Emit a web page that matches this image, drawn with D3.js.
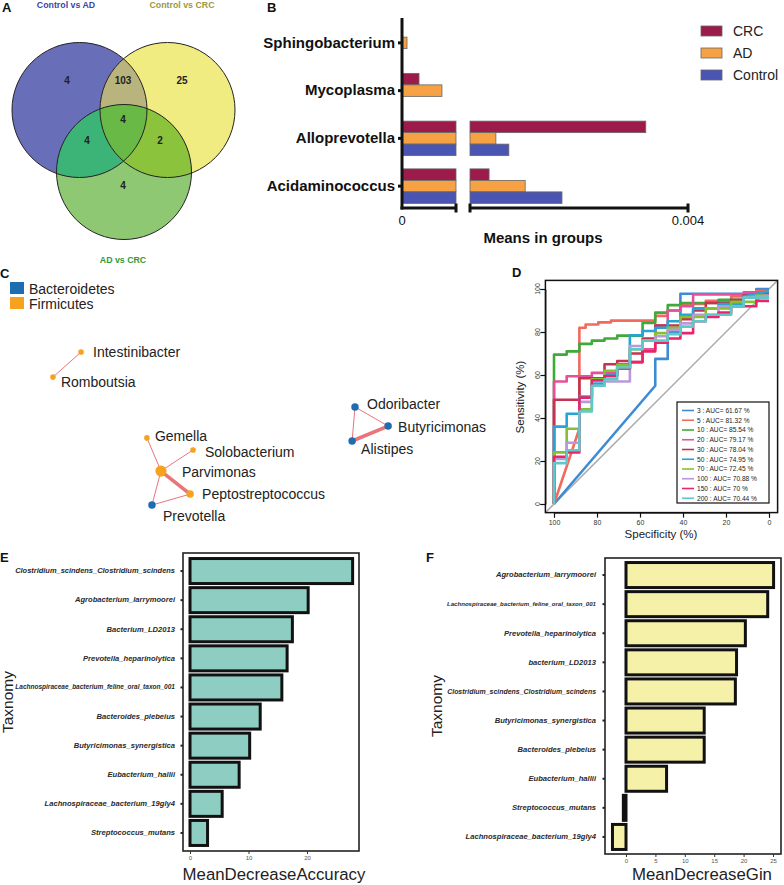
<!DOCTYPE html>
<html>
<head>
<meta charset="utf-8">
<script src="https://cdn.jsdelivr.net/npm/d3@7/dist/d3.min.js"></script>
<style>
  html, body { margin: 0; padding: 0; background: #fff; }
  svg { display: block; font-family: "Liberation Sans", Arial, sans-serif; }
</style>
</head>
<body>
<svg id="figure" width="784" height="885"></svg>
<script>
// ---------- A : venn counts ----------
var vennSetNames = ["Control vs AD", "Control vs CRC", "AD vs CRC"];
var vennRegionSets = ["0", "01", "1", "012", "02", "12", "2"];
var vennRegionCounts = [4, 103, 25, 4, 4, 2, 4];

// ---------- B : means in groups ----------
var taxaB = ["Sphingobacterium", "Mycoplasma", "Alloprevotella", "Acidaminococcus"];
var groupsB = ["CRC", "AD", "Control"];
var meansCRC = [0, 0.000126, 0.00338, 0.00108];
var meansAD = [0.000037, 0.000296, 0.00118, 0.00161];
var meansControl = [0, 0.000003, 0.00137, 0.00215];
var ticksB = [0, 0.004];

// ---------- C : co-occurrence network ----------
var phyla = ["Bacteroidetes", "Firmicutes"];
// lx, ly = layout position (0-100 layout units)
var netNodes = [
  { id: "Intestinibacter",    phylum: "Firmicutes",    lx: 11.4, ly: 6.7 },
  { id: "Romboutsia",         phylum: "Firmicutes",    lx: 3.6,  ly: 20.6 },
  { id: "Gemella",            phylum: "Firmicutes",    lx: 29.7, ly: 54.4 },
  { id: "Solobacterium",      phylum: "Firmicutes",    lx: 42.5, ly: 61.1 },
  { id: "Parvimonas",         phylum: "Firmicutes",    lx: 33.6, ly: 72.8 },
  { id: "Peptostreptococcus", phylum: "Firmicutes",    lx: 41.7, ly: 85.6 },
  { id: "Prevotella",         phylum: "Bacteroidetes", lx: 31.1, ly: 91.7 },
  { id: "Odoribacter",        phylum: "Bacteroidetes", lx: 87.5, ly: 37.2 },
  { id: "Butyricimonas",      phylum: "Bacteroidetes", lx: 96.7, ly: 47.8 },
  { id: "Alistipes",          phylum: "Bacteroidetes", lx: 86.7, ly: 56.1 }
];
var netEdges = [
  { source: "Intestinibacter", target: "Romboutsia",         w: 0.6 },
  { source: "Gemella",         target: "Parvimonas",         w: 0.6 },
  { source: "Solobacterium",   target: "Parvimonas",         w: 0.6 },
  { source: "Parvimonas",      target: "Peptostreptococcus", w: 0.9 },
  { source: "Parvimonas",      target: "Prevotella",         w: 0.6 },
  { source: "Prevotella",      target: "Peptostreptococcus", w: 0.6 },
  { source: "Odoribacter",     target: "Butyricimonas",      w: 0.6 },
  { source: "Odoribacter",     target: "Alistipes",          w: 0.6 },
  { source: "Alistipes",       target: "Butyricimonas",      w: 0.9 }
];

// ---------- D : ROC curves [specificity, sensitivity] ----------
var rocLabels = ["3", "5", "10", "20", "30", "50", "70", "100", "150", "200"];
var rocAUC = ["61.67", "81.32", "85.54", "79.17", "78.04", "74.95", "72.45", "70.88", "70", "70.44"];
var rocTicks = [100, 80, 60, 40, 20, 0];
var roc3 = [[100,0],[52.9,55],[52.9,67.5],[47.1,67.5],[47.1,80],[41.2,80],[41.2,97.8],[5.9,97.8],[5.9,100],[0,100]];
var roc5 = [[100,0],[88.2,35],[88.2,82],[85.3,82],[85.3,83.5],[79.4,83.5],[79.4,84.5],[73.5,84.5],[73.5,85.3],[52.9,85.3],[52.9,87.5],[47.1,87.5],[47.1,90],[41.2,90],[41.2,93],[29.4,93],[29.4,94.5],[17.6,94.5],[17.6,96.5],[5.9,96.5],[5.9,99],[0,99]];
var roc10 = [[100,0],[100,69.5],[94.1,69.5],[94.1,71],[88.2,71],[88.2,74.5],[82.4,74.5],[82.4,76],[76.5,76],[76.5,77],[70.6,77],[70.6,78.3],[58.8,78.3],[58.8,84.2],[52.9,84.2],[52.9,89],[47.1,89],[47.1,92.5],[41.2,92.5],[41.2,93.5],[23.5,93.5],[23.5,95],[11.8,95],[11.8,97],[0,97]];
var roc20 = [[100,0],[100,57],[94.1,57],[94.1,59.4],[82.4,59.4],[82.4,61],[70.6,61],[70.6,63],[64.7,63],[64.7,66],[58.8,66],[58.8,72],[52.9,72],[52.9,83],[47.1,83],[47.1,90],[41.2,90],[41.2,92],[35.3,92],[35.3,97.5],[11.8,97.5],[11.8,98.5],[0,98.5]];
var roc30 = [[100,0],[100,48.5],[88.2,48.5],[88.2,58.5],[76.5,58.5],[76.5,65],[70.6,65],[70.6,66.5],[64.7,66.5],[64.7,70],[58.8,70],[58.8,77],[52.9,77],[52.9,83],[41.2,83],[41.2,86],[35.3,86],[35.3,90],[29.4,90],[29.4,93.5],[17.6,93.5],[17.6,95],[11.8,95],[11.8,97],[0,97.5]];
var roc50 = [[100,0],[100,36],[94.1,36],[94.1,42],[88.2,42],[88.2,50],[82.4,50],[82.4,56],[76.5,56],[76.5,60],[70.6,60],[70.6,65],[64.7,65],[64.7,78.5],[58.8,78.5],[58.8,80.5],[52.9,80.5],[52.9,82],[47.1,82],[47.1,85],[41.2,85],[41.2,88],[35.3,88],[35.3,91],[23.5,91],[23.5,93],[11.8,93],[11.8,96.5],[0,99]];
var roc70 = [[100,0],[100,24],[94.1,24],[94.1,35],[88.2,35],[88.2,44],[82.4,44],[82.4,58],[76.5,58],[76.5,62],[70.6,62],[70.6,64.5],[64.7,64.5],[64.7,72],[58.8,72],[58.8,76],[52.9,76],[52.9,79.5],[47.1,79.5],[47.1,82],[41.2,82],[41.2,87],[29.4,87],[29.4,91],[17.6,91],[17.6,94],[5.9,94],[5.9,97],[0,97]];
var roc100 = [[100,0],[100,21],[94.1,21],[94.1,28.5],[88.2,28.5],[88.2,47.5],[82.4,47.5],[82.4,55],[76.5,55],[76.5,57],[64.7,57],[64.7,73.5],[58.8,73.5],[58.8,76],[52.9,76],[52.9,78],[47.1,78],[47.1,81],[41.2,81],[41.2,84],[35.3,84],[35.3,88],[23.5,88],[23.5,92],[11.8,92],[11.8,96],[0,97]];
var roc150 = [[100,0],[100,22],[94.1,22],[94.1,24],[88.2,24],[88.2,49.5],[82.4,49.5],[82.4,57.5],[76.5,57.5],[76.5,59.5],[70.6,59.5],[70.6,63],[64.7,63],[64.7,66],[58.8,66],[58.8,71],[52.9,71],[52.9,75],[47.1,75],[47.1,77],[41.2,77],[41.2,79.5],[35.3,79.5],[35.3,85],[29.4,85],[29.4,87],[23.5,87],[23.5,89],[17.6,89],[17.6,92],[5.9,92],[5.9,94.5],[0,94.5]];
var roc200 = [[100,0],[100,19],[94.1,19],[94.1,25],[88.2,25],[88.2,43],[82.4,43],[82.4,55],[76.5,55],[76.5,58],[70.6,58],[70.6,63.5],[64.7,63.5],[64.7,72],[58.8,72],[58.8,76],[47.1,76],[47.1,79],[41.2,79],[41.2,82.5],[35.3,82.5],[35.3,85],[29.4,85],[29.4,88],[17.6,88],[17.6,92],[11.8,92],[11.8,96],[0,96]];

// ---------- E / F : random forest importance ----------
var taxaE = ["Clostridium_scindens_Clostridium_scindens", "Agrobacterium_larrymoorei", "Bacterium_LD2013",
  "Prevotella_heparinolytica", "Lachnospiraceae_bacterium_feline_oral_taxon_001", "Bacteroides_plebeius",
  "Butyricimonas_synergistica", "Eubacterium_hallii", "Lachnospiraceae_bacterium_19gly4", "Streptococcus_mutans"];
var accuracyE = [27.8, 20.2, 17.5, 16.6, 15.7, 12.0, 10.2, 8.4, 5.5, 3.0];
var ticksE = [0, 10, 20];
var taxaF = ["Agrobacterium_larrymoorei", "Lachnospiraceae_bacterium_feline_oral_taxon_001", "Prevotella_heparinolytica",
  "bacterium_LD2013", "Clostridium_scindens_Clostridium_scindens", "Butyricimonas_synergistica",
  "Bacteroides_plebeius", "Eubacterium_hallii", "Streptococcus_mutans", "Lachnospiraceae_bacterium_19gly4"];
var giniF = [25.1, 24.1, 20.3, 18.8, 18.6, 13.3, 13.3, 6.9, -0.45, -2.3];
var ticksF = [0, 5, 10, 15, 20, 25];

var svg = d3.select("#figure");
var defs = svg.append("defs");

function panelLetter(x, y, t) {
  svg.append("text").attr("x", x).attr("y", y).attr("font-size", 13).attr("font-weight", "bold")
    .attr("fill", "#111").text(t);
}
panelLetter(2, 12, "A");
panelLetter(267, 12, "B");
panelLetter(0, 278, "C");
panelLetter(512, 277, "D");
panelLetter(0, 562, "E");
panelLetter(426, 562, "F");

// ===== A =====
var venn = svg.append("g");
var vennCircles = [
  { cx: 79.5, cy: 110, fill: "#696eb9" },
  { cx: 167.5, cy: 110, fill: "#f0ec82" },
  { cx: 124, cy: 172, fill: "#8fc873" }
];
var vennR = 67.5;
var overlapFill = { "01": "#b9b47d", "02": "#3cb478", "12": "#8cc33c", "012": "#69b946" };
var vennLabelPos = { "0": [67, 80], "01": [123, 80], "1": [182, 80], "012": [123, 119],
  "02": [87, 140], "12": [160, 140], "2": [123, 185] };
var vennTitlePos = [[66, 8], [182, 8], [123, 263]];
var vennTitleColor = ["#3d45a6", "#9a993f", "#2f9a38"];

vennCircles.forEach(function(c, i) {
  defs.append("clipPath").attr("id", "vclip" + i)
    .append("circle").attr("cx", c.cx).attr("cy", c.cy).attr("r", vennR);
});
venn.selectAll("circle.base").data(vennCircles).enter().append("circle")
  .attr("cx", function(d){ return d.cx; })
  .attr("cy", function(d){ return d.cy; })
  .attr("r", vennR)
  .attr("fill", function(d){ return d.fill; });
["01", "02", "12", "012"].forEach(function(key) {
  var idx = key.split("").map(Number);
  var g = venn;
  for (var k = 0; k < idx.length - 1; k++) {
    g = g.append("g").attr("clip-path", "url(#vclip" + idx[k] + ")");
  }
  var c = vennCircles[idx[idx.length - 1]];
  g.append("circle").attr("cx", c.cx).attr("cy", c.cy).attr("r", vennR).attr("fill", overlapFill[key]);
});
venn.selectAll("circle.edge").data(vennCircles).enter().append("circle")
  .attr("cx", function(d){ return d.cx; })
  .attr("cy", function(d){ return d.cy; })
  .attr("r", vennR)
  .attr("fill", "none").attr("stroke", "#222").attr("stroke-width", 1);
vennRegionSets.forEach(function(key, i) {
  venn.append("text")
    .attr("x", vennLabelPos[key][0]).attr("y", vennLabelPos[key][1])
    .attr("dy", "0.35em").attr("text-anchor", "middle")
    .attr("font-size", 10).attr("font-weight", "bold").attr("fill", "#222")
    .text(vennRegionCounts[i]);
});
vennSetNames.forEach(function(n, i) {
  venn.append("text").attr("x", vennTitlePos[i][0]).attr("y", vennTitlePos[i][1])
    .attr("text-anchor", "middle").attr("font-size", 8.8).attr("font-weight", "bold")
    .attr("fill", vennTitleColor[i]).text(n);
});

// ===== B =====
var gB = svg.append("g");
var yB = d3.scaleBand().domain(taxaB).range([19, 210]);
var yGroup = d3.scaleBand().domain(groupsB).range([-17.25, 17.25]);
var xLow = d3.scaleLinear().domain([0, 0.0004]).range([402, 456]);
var xHigh = d3.scaleLinear().domain([0.0008, 0.004]).range([470, 688]);
var colorB = d3.scaleOrdinal().domain(groupsB).range(["#9c1b4b", "#f6a244", "#4a54b2"]);
var seriesB = [meansCRC, meansAD, meansControl];
var barsB = [];
taxaB.forEach(function(t, i) {
  groupsB.forEach(function(gname, j) {
    barsB.push({ taxon: t, group: gname, v: seriesB[j][i] });
  });
});
barsB.forEach(function(d) {
  var y0 = yB(d.taxon) + yB.bandwidth() / 2 + yGroup(d.group);
  var h = yGroup.bandwidth();
  if (d.v > 0) {
    gB.append("rect").attr("x", xLow(0)).attr("y", y0)
      .attr("width", xLow(Math.min(d.v, 0.0004)) - xLow(0)).attr("height", h)
      .attr("fill", colorB(d.group)).attr("stroke", "#666").attr("stroke-width", 0.8);
  }
  if (d.v > 0.0008) {
    gB.append("rect").attr("x", xHigh(0.0008)).attr("y", y0)
      .attr("width", xHigh(d.v) - xHigh(0.0008)).attr("height", h)
      .attr("fill", colorB(d.group)).attr("stroke", "#666").attr("stroke-width", 0.8);
  }
});
var axB = gB.append("g").attr("transform", "translate(402,0)")
  .call(d3.axisLeft(yB).tickSize(4).tickPadding(3));
axB.select(".domain").remove();
axB.selectAll(".tick line").attr("stroke", "#111").attr("stroke-width", 3);
axB.selectAll(".tick text").attr("font-size", 15).attr("font-weight", "bold").attr("fill", "#111")
  .attr("font-family", "'Liberation Sans', Arial, sans-serif");
gB.append("line").attr("x1", 402).attr("x2", 402).attr("y1", 18).attr("y2", 209.5)
  .attr("stroke", "#111").attr("stroke-width", 3);
gB.append("line").attr("x1", 400.5).attr("x2", xLow(0.0004)).attr("y1", 208).attr("y2", 208)
  .attr("stroke", "#111").attr("stroke-width", 3);
gB.append("line").attr("x1", xHigh(0.0008)).attr("x2", xHigh(0.004)).attr("y1", 208).attr("y2", 208)
  .attr("stroke", "#111").attr("stroke-width", 3);
[xLow(0.0004), xHigh(0.0008), xHigh(0.004)].forEach(function(x) {
  gB.append("line").attr("x1", x).attr("x2", x).attr("y1", 203.5).attr("y2", 212.5)
    .attr("stroke", "#111").attr("stroke-width", 3);
});
ticksB.forEach(function(t) {
  gB.append("text").attr("x", t === 0 ? xLow(t) : xHigh(t)).attr("y", 225)
    .attr("text-anchor", "middle").attr("font-size", 13).attr("fill", "#111")
    .text(t === 0 ? "0" : t.toString());
});
gB.append("text").attr("x", 543).attr("y", 243).attr("text-anchor", "middle")
  .attr("font-size", 15).attr("font-weight", "bold").attr("fill", "#111").text("Means in groups");
groupsB.forEach(function(gname, i) {
  var ly = 26 + i * 22;
  gB.append("rect").attr("x", 701).attr("y", ly).attr("width", 21).attr("height", 10)
    .attr("fill", colorB(gname)).attr("stroke", "#666").attr("stroke-width", 0.8);
  gB.append("text").attr("x", 733).attr("y", ly + 10).attr("font-size", 14).attr("fill", "#222").text(gname);
});

// ===== C =====
var gC = svg.append("g");
var colorC = d3.scaleOrdinal().domain(phyla).range(["#1f6db1", "#f6a21e"]);
phyla.forEach(function(p, i) {
  gC.append("rect").attr("x", 10).attr("y", 282 + i * 15).attr("width", 14).attr("height", 12)
    .attr("fill", colorC(p));
  gC.append("text").attr("x", 29).attr("y", 293.5 + i * 15).attr("font-size", 14).attr("fill", "#222").text(p);
});
var xNet = d3.scaleLinear().domain([0, 100]).range([40, 400]);
var yNet = d3.scaleLinear().domain([0, 100]).range([340, 520]);
var nodeById = {};
netNodes.forEach(function(n) { n.degree = 0; nodeById[n.id] = n; });
netEdges.forEach(function(e) { nodeById[e.source].degree++; nodeById[e.target].degree++; });
var rNode = d3.scaleLinear().domain([1, 4]).range([2.8, 5.6]);
var wEdge = d3.scaleLinear().domain([0.6, 0.9]).range([1, 3.6]);
var labelOffset = {
  Intestinibacter: [12, 5], Romboutsia: [8, 10], Gemella: [8, 3], Solobacterium: [12, 7],
  Parvimonas: [21, 6], Peptostreptococcus: [12, 5], Prevotella: [11, 16],
  Odoribacter: [12, 2], Butyricimonas: [10, 6], Alistipes: [9, 13]
};
gC.selectAll("line.edge").data(netEdges).enter().append("line")
  .attr("x1", function(d){ return xNet(nodeById[d.source].lx); })
  .attr("y1", function(d){ return yNet(nodeById[d.source].ly); })
  .attr("x2", function(d){ return xNet(nodeById[d.target].lx); })
  .attr("y2", function(d){ return yNet(nodeById[d.target].ly); })
  .attr("stroke", "#e8757c").attr("stroke-width", function(d){ return wEdge(d.w); });
gC.selectAll("circle.node").data(netNodes).enter().append("circle")
  .attr("cx", function(d){ return xNet(d.lx); })
  .attr("cy", function(d){ return yNet(d.ly); })
  .attr("r", function(d){ return rNode(d.degree); })
  .attr("fill", function(d){ return colorC(d.phylum); });
gC.selectAll("text.node").data(netNodes).enter().append("text")
  .attr("x", function(d){ return xNet(d.lx) + labelOffset[d.id][0]; })
  .attr("y", function(d){ return yNet(d.ly) + labelOffset[d.id][1]; })
  .attr("font-size", 14).attr("fill", "#222")
  .text(function(d){ return d.id; });

// ===== D =====
var gD = svg.append("g");
var xD = d3.scaleLinear().domain([100, 0]).range([554, 769]);
var yD = d3.scaleLinear().domain([0, 100]).range([504, 289]);
var rocCurves = [roc3, roc5, roc10, roc20, roc30, roc50, roc70, roc100, roc150, roc200];
var rocColor = d3.scaleOrdinal().domain(rocLabels)
  .range(["#3d8bd5", "#f26a5e", "#3fa93a", "#e4509b", "#c4334f", "#27a3d6", "#84c132", "#b79ad7", "#e8256b", "#5ec9c9"]);
gD.append("line").attr("x1", xD(104)).attr("y1", yD(-4)).attr("x2", xD(-4)).attr("y2", yD(104))
  .attr("stroke", "#aaa").attr("stroke-width", 1.5);
var rocLine = d3.line().x(function(d){ return xD(d[0]); }).y(function(d){ return yD(d[1]); });
rocCurves.forEach(function(c, i) {
  gD.append("path").attr("d", rocLine(c)).attr("fill", "none")
    .attr("stroke", rocColor(rocLabels[i])).attr("stroke-width", 2.6).attr("stroke-linejoin", "round");
});
gD.append("rect").attr("x", xD(104)).attr("y", yD(104))
  .attr("width", xD(-4) - xD(104)).attr("height", yD(-4) - yD(104))
  .attr("fill", "none").attr("stroke", "#111").attr("stroke-width", 1.5);
var axDx = gD.append("g").attr("transform", "translate(0," + yD(-4) + ")")
  .call(d3.axisBottom(xD).tickValues(rocTicks).tickSize(5).tickPadding(2));
axDx.select(".domain").attr("stroke", "#111");
axDx.selectAll(".tick line").attr("stroke", "#111").attr("stroke-width", 1.2);
axDx.selectAll(".tick text").attr("font-size", 7).attr("fill", "#333");
var axDy = gD.append("g").attr("transform", "translate(" + xD(104) + ",0)")
  .call(d3.axisLeft(yD).tickValues([0, 20, 40, 60, 80, 100]).tickSize(5));
axDy.select(".domain").attr("stroke", "#111");
axDy.selectAll(".tick line").attr("stroke", "#111").attr("stroke-width", 1.2);
axDy.selectAll(".tick text").remove();
[0, 20, 40, 60, 80, 100].forEach(function(v) {
  gD.append("text").attr("x", 540).attr("y", yD(v)).attr("text-anchor", "middle")
    .attr("transform", "rotate(-90," + 540 + "," + yD(v) + ")")
    .attr("font-size", 7).attr("fill", "#333").text(v);
});
gD.append("text").attr("x", 524).attr("y", 397).attr("text-anchor", "middle")
  .attr("transform", "rotate(-90,524,397)").attr("font-size", 11.5).attr("fill", "#222").text("Sensitivity (%)");
gD.append("text").attr("x", 661).attr("y", 538).attr("text-anchor", "middle")
  .attr("font-size", 11.5).attr("fill", "#222").text("Specificity (%)");
gD.append("rect").attr("x", 677).attr("y", 402).attr("width", 92).attr("height", 101)
  .attr("fill", "#fff").attr("stroke", "#111").attr("stroke-width", 1.2);
rocLabels.forEach(function(l, i) {
  var ly = 410.5 + i * 9.75;
  gD.append("line").attr("x1", 682).attr("x2", 694).attr("y1", ly).attr("y2", ly)
    .attr("stroke", rocColor(l)).attr("stroke-width", 1.6);
  gD.append("text").attr("x", 697).attr("y", ly).attr("dy", "0.35em")
    .attr("font-size", 6.6).attr("fill", "#222").text(l + " : AUC= " + rocAUC[i] + " %");
});

// ===== E / F =====
function importancePanel(cfg) {
  var g = svg.append("g");
  var x = d3.scaleLinear().domain(cfg.domain).range(cfg.range);
  var y = d3.scaleBand().domain(cfg.taxa).range(cfg.yRange).paddingInner(0.14).paddingOuter(0.07);
  g.selectAll("rect.bar").data(cfg.values).enter().append("rect")
    .attr("x", function(d){ return x(Math.min(0, d)); })
    .attr("y", function(d, i){ return y(cfg.taxa[i]); })
    .attr("width", function(d){ return Math.abs(x(d) - x(0)); })
    .attr("height", y.bandwidth())
    .attr("fill", cfg.fill).attr("stroke", "#111").attr("stroke-width", 3);
  g.append("rect").attr("x", cfg.box[0]).attr("y", cfg.box[1])
    .attr("width", cfg.box[2] - cfg.box[0]).attr("height", cfg.box[3] - cfg.box[1])
    .attr("fill", "none").attr("stroke", "#222").attr("stroke-width", 1.6);
  var ax = g.append("g").attr("transform", "translate(0," + cfg.box[3] + ")")
    .call(d3.axisBottom(x).tickValues(cfg.ticks).tickSize(3).tickPadding(1.5));
  ax.select(".domain").remove();
  ax.selectAll(".tick line").attr("stroke", "#333");
  ax.selectAll(".tick text").attr("font-size", 6).attr("fill", "#555");
  cfg.taxa.forEach(function(t) {
    var cy = y(t) + y.bandwidth() / 2;
    g.append("line").attr("x1", cfg.box[0] - 2.5).attr("x2", cfg.box[0]).attr("y1", cy).attr("y2", cy)
      .attr("stroke", "#222").attr("stroke-width", 2);
    var txt = g.append("text").attr("x", cfg.labelX).attr("y", cy).attr("dy", "0.3em")
      .attr("text-anchor", "end").attr("font-size", 7.6).attr("font-style", "italic")
      .attr("font-weight", "bold").attr("fill", "#2a2a2a").text(t);
    var len = txt.node().getComputedTextLength();
    if (len > cfg.labelMax) txt.attr("font-size", 7.6 * cfg.labelMax / len);
  });
  g.append("text").attr("x", cfg.taxX).attr("y", (cfg.box[1] + cfg.box[3]) / 2)
    .attr("text-anchor", "middle")
    .attr("transform", "rotate(-90," + cfg.taxX + "," + ((cfg.box[1] + cfg.box[3]) / 2) + ")")
    .attr("font-size", 15.5).attr("fill", "#222").text("Taxnomy");
  g.append("text").attr("x", cfg.titleX).attr("y", 880).attr("text-anchor", "middle")
    .attr("font-size", 16.8).attr("fill", "#222").text(cfg.title);
}
importancePanel({
  taxa: taxaE, values: accuracyE, ticks: ticksE, domain: [0, 20], range: [190, 307],
  yRange: [556.5, 847.5], box: [183, 553, 359, 851], fill: "#8ecdc1",
  labelX: 175, labelMax: 160, taxX: 13, titleX: 274, title: "MeanDecreaseAccuracy"
});
importancePanel({
  taxa: taxaF, values: giniF, ticks: ticksF, domain: [0, 25], range: [626, 773],
  yRange: [560.5, 851.5], box: [605, 558, 781, 854], fill: "#f6f1a9",
  labelX: 596, labelMax: 149, taxX: 442, titleX: 702, title: "MeanDecreaseGin"
});
</script>
</body>
</html>
